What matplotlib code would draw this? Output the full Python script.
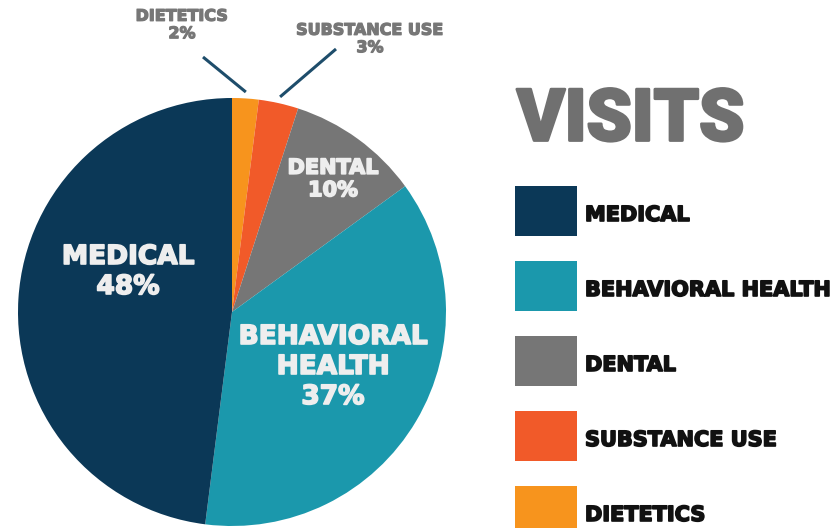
import numpy as np
import matplotlib
matplotlib.use("Agg")
import matplotlib.pyplot as plt
from matplotlib.patches import Rectangle
import matplotlib.patheffects as pe

# data (clockwise from the top)
categories = ["DIETETICS", "SUBSTANCE USE", "DENTAL", "BEHAVIORAL HEALTH", "MEDICAL"]
shares = [2, 3, 10, 37, 48]
colors = ["#F7941D", "#F15A29", "#767676", "#1B98AC", "#0B3857"]
legend_order = ["MEDICAL", "BEHAVIORAL HEALTH", "DENTAL", "SUBSTANCE USE", "DIETETICS"]

W, H = 836, 528
fig = plt.figure(figsize=(W / 100, H / 100), dpi=100)
ax = fig.add_axes([0, 0, 1, 1])


def Y(y):
    # screen y -> axes y
    return H - y


def heavy(c, w=1.2):
    # thicken the bold font a little
    return [pe.withStroke(linewidth=w, foreground=c)]


cx, cy, r = 232, Y(312), 214
wedges, _ = ax.pie(shares, colors=colors, startangle=90, counterclock=False,
                   center=(cx, cy), radius=r, frame=True,
                   wedgeprops=dict(linewidth=0))
ax.set_xlim(0, W)
ax.set_ylim(0, H)
ax.axis("off")

inner = "#EEEEEE"
font = "DejaVu Sans"

# labels inside the pie
ax.text(128, Y(272), "MEDICAL\n48%", ha="center", va="center", color=inner,
        fontsize=19, fontweight="bold", family=font, linespacing=1.2,
        path_effects=heavy(inner))
ax.text(333, Y(367), "BEHAVIORAL\nHEALTH\n37%", ha="center", va="center", color=inner,
        fontsize=19, fontweight="bold", family=font, linespacing=1.2,
        path_effects=heavy(inner))
ax.text(333, Y(179), "DENTAL\n10%", ha="center", va="center", color=inner,
        fontsize=15, fontweight="bold", family=font, linespacing=1.15,
        path_effects=heavy(inner))

# small slices: labels outside with leader lines
outer = "#777777"
small = {"DIETETICS": ((182, 25), (203, 57)), "SUBSTANCE USE": ((370, 39), (336, 49))}
start = 90.0
for cat, s in zip(categories, shares):
    ang = start - s * 360 / 100 / 2
    start -= s * 360 / 100
    if cat in small:
        (tx, ty), (lx, ly) = small[cat]
        ax.text(tx, Y(ty), f"{cat}\n{s}%", ha="center", va="center", color=outer,
                fontsize=11.5, fontweight="bold", family=font, linespacing=1.2,
                path_effects=heavy(outer, 0.9))
        ex = cx + 1.03 * r * np.cos(np.radians(ang))
        ey = cy + 1.03 * r * np.sin(np.radians(ang))
        ax.plot([lx, ex], [Y(ly), ey], color="#1E4D6B", lw=2.2, solid_capstyle="butt")

# title + legend
ax.text(517, Y(121), "VISITS", ha="left", va="center", color="#707070",
        fontsize=52, fontweight="black", family=["Roboto", "DejaVu Sans"],
        path_effects=heavy("#707070", 2))

for i, cat in enumerate(legend_order):
    col = colors[categories.index(cat)]
    y0 = 186 + i * 75
    ax.add_patch(Rectangle((515, Y(y0 + 50)), 62, 50, facecolor=col, edgecolor="none"))
    ax.text(585, Y(y0 + 29), cat, ha="left", va="center", color="#111111",
            fontsize=15, fontweight="bold", family=font,
            path_effects=heavy("#111111"))

fig.savefig("out.png", dpi=100)
